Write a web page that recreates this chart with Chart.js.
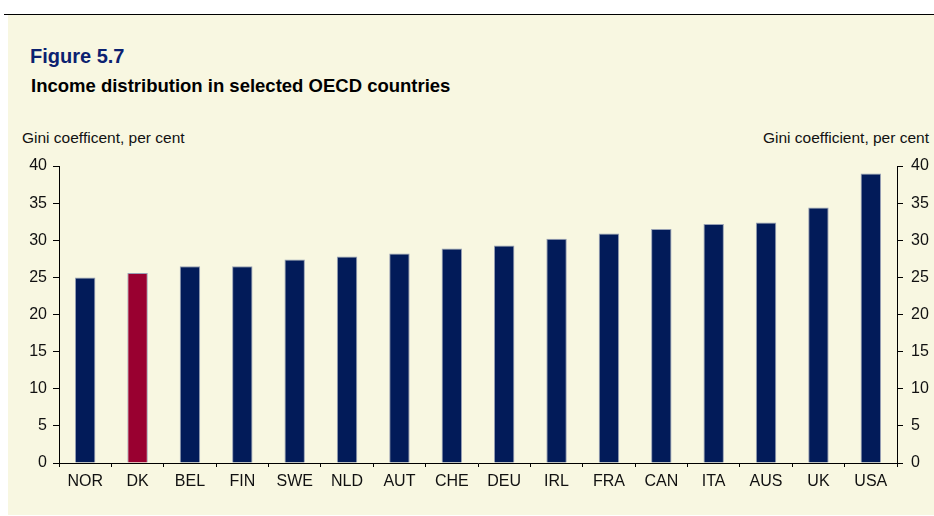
<!DOCTYPE html>
<html>
<head>
<meta charset="utf-8">
<script src="https://cdn.jsdelivr.net/npm/chart.js@4.4.1/dist/chart.umd.min.js"></script>
<style>
  html, body { margin: 0; padding: 0; background: #fff; }
  body { width: 934px; height: 516px; position: relative; overflow: hidden; font-family: "Liberation Sans", Arial, sans-serif; }
  .rule { position: absolute; left: 4px; right: 0; top: 14px; height: 1px; background: #000; }
  .panel { position: absolute; left: 8px; top: 15px; width: 926px; height: 500px; background: #F8F7E1; }
  .fig { position: absolute; left: 30px; top: 45px; font-size: 20px; font-weight: bold; color: #0B2170; }
  .sub { position: absolute; left: 31px; top: 75px; font-size: 18.5px; font-weight: bold; color: #000; }
  .ytl { position: absolute; left: 22px; top: 129px; font-size: 15.5px; color: #111; }
  .ytr { position: absolute; right: 5px; top: 129px; font-size: 15.5px; color: #111; }
  canvas { position: absolute; left: 0; top: 0; }
</style>
</head>
<body>
<div class="rule"></div>
<div class="panel"></div>
<div class="fig">Figure 5.7</div>
<div class="sub">Income distribution in selected OECD countries</div>
<div class="ytl">Gini coefficent, per cent</div>
<div class="ytr">Gini coefficient, per cent</div>
<canvas id="chart" width="934" height="516"></canvas>
<script>
// Countries and Gini coefficients (per cent)
const countries = ['NOR', 'DK', 'BEL', 'FIN', 'SWE', 'NLD', 'AUT', 'CHE', 'DEU', 'IRL', 'FRA', 'CAN', 'ITA', 'AUS', 'UK', 'USA'];
const gini = [25.0, 25.6, 26.5, 26.5, 27.4, 27.8, 28.2, 28.9, 29.3, 30.2, 30.9, 31.5, 32.2, 32.4, 34.4, 39.0];
const highlight = 'DK';
const yTicks = [0, 5, 10, 15, 20, 25, 30, 35, 40];

const navy = '#021B59';
const red = '#990030';

const axisFont = { family: '"Liberation Sans", Arial, sans-serif', size: 16 };

const yScale = (position, width) => ({
  type: 'linear',
  position: position,
  display: true,
  min: 0,
  max: 40,
  afterBuildTicks: (s) => { s.ticks = yTicks.map(v => ({ value: v })); },
  afterFit: (s) => { s.width = width; },
  border: { display: true, color: '#000', width: 1 },
  grid: { drawOnChartArea: false, drawTicks: true, tickLength: 6, color: '#000' },
  ticks: { color: '#111', font: axisFont, padding: position === 'left' ? 6 : 8 }
});

new Chart(document.getElementById('chart'), {
  type: 'bar',
  data: {
    labels: countries,
    datasets: [{
      data: gini,
      backgroundColor: countries.map(c => c === highlight ? red : navy),
      borderColor: 'rgba(140,150,175,0.9)',
      borderWidth: 1,
      categoryPercentage: 1,
      barPercentage: 0.39,
      yAxisID: 'y'
    }]
  },
  options: {
    responsive: false,
    animation: false,
    layout: { padding: { top: 166, bottom: 0, left: 0, right: 0 } },
    plugins: { legend: { display: false }, tooltip: { enabled: false } },
    scales: {
      x: {
        grid: { drawOnChartArea: false, drawTicks: true, tickLength: 4, color: '#000', offset: true },
        border: { display: true, color: '#000', width: 1 },
        ticks: { color: '#111', font: axisFont, padding: 5, maxRotation: 0, autoSkip: false },
        afterFit: (s) => { s.height = 53; }
      },
      y: yScale('left', 59),
      y2: yScale('right', 37)
    }
  }
});
</script>
</body>
</html>
